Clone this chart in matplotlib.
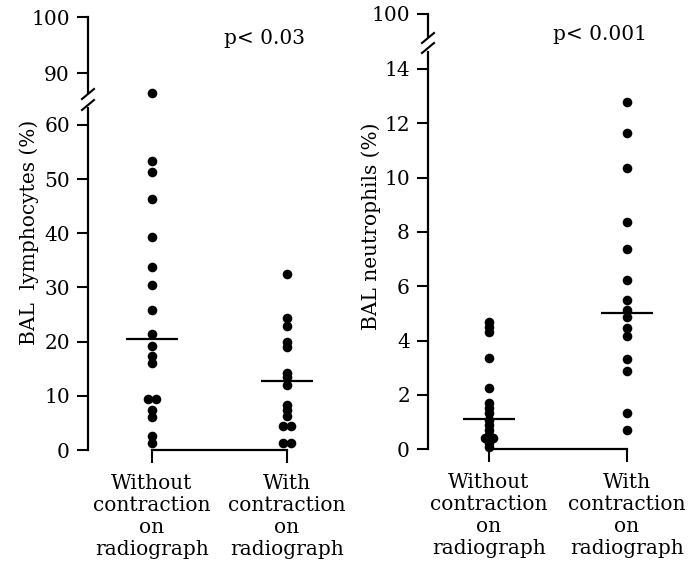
import matplotlib
matplotlib.use("Agg")
import matplotlib.pyplot as plt
from matplotlib.lines import Line2D
import numpy as np

# ---- data ----
groups = ["Without\ncontraction\non\nradiograph", "With\ncontraction\non\nradiograph"]
lymph_without = [86.5, 53.3, 51.3, 46.3, 39.4, 33.8, 30.4, 25.8, 21.5, 19.2, 17.3, 16.1,
                 9.4, 9.4, 7.4, 6.0, 2.6, 1.2]
lymph_with = [32.4, 24.3, 22.8, 20.0, 19.1, 14.3, 13.4, 12.0, 8.3, 7.4, 6.2, 4.4, 4.4, 1.2, 1.2]
lymph_medians = [20.4, 12.8]
neut_without = [4.70, 4.51, 4.33, 3.35, 2.24, 1.69, 1.51, 1.32, 1.08, 0.89, 0.71, 0.53,
                0.40, 0.40, 0.22, 0.10]
neut_with = [12.77, 11.65, 10.34, 8.38, 7.37, 6.23, 5.49, 5.13, 4.86, 4.48, 4.18, 3.31,
             2.88, 1.32, 0.71]
neut_medians = [1.10, 5.03]
lymph_ticks_low = [0, 10, 20, 30, 40, 50, 60]
lymph_ticks_high = [90, 100]
neut_ticks_low = [0, 2, 4, 6, 8, 10, 12, 14]
neut_ticks_high = [100]
p_texts = ["p< 0.03", "p< 0.001"]
ylabels = ["BAL  lymphocytes (%)", "BAL neutrophils (%)"]

FONT = "DejaVu Serif"
FS = 14.5
plt.rcParams["font.family"] = FONT

W, H = 692, 567
fig = plt.figure(figsize=(W / 100, H / 100), dpi=100)


def rect(x0, ytop, x1, ybot):
    return [x0 / W, 1 - ybot / H, (x1 - x0) / W, (ybot - ytop) / H]


def fpt(x, y):
    return x / W, 1 - y / H


def offsets(vals):
    vals = list(vals)
    xs = []
    for i, v in enumerate(vals):
        n = vals.count(v)
        if n > 1:
            k = [j for j, w in enumerate(vals) if w == v].index(i)
            xs.append((k - (n - 1) / 2) * 0.06)
        else:
            xs.append(0.0)
    return np.array(xs)


def panel(xpx, low_rect, low_lim, high_rect, high_lim, series, medians,
          ticks_low, ticks_high, xlim, brk_y):
    axl = fig.add_axes(rect(*low_rect))
    axh = fig.add_axes(rect(*high_rect))
    for ax in (axl, axh):
        ax.set_xlim(*xlim)
        ax.patch.set_alpha(0)
        for s in ("top", "right"):
            ax.spines[s].set_visible(False)
        ax.spines["left"].set_linewidth(1.6)
        ax.tick_params(axis="y", direction="out", length=8, width=1.5,
                       labelsize=FS, pad=5)
    axl.set_ylim(*low_lim)
    axh.set_ylim(*high_lim)
    axh.spines["bottom"].set_visible(False)
    axh.set_xticks([])
    axh.spines["left"].set_bounds(high_lim[0], ticks_high[-1])
    axl.spines["bottom"].set_bounds(1, 2)
    axl.spines["bottom"].set_linewidth(1.6)
    axl.set_xticks([1, 2])
    axl.set_xticklabels(groups, fontsize=FS, linespacing=1.2)
    axl.tick_params(axis="x", direction="out", length=9, width=1.5, pad=8)
    axl.set_yticks(ticks_low)
    axh.set_yticks(ticks_high)

    for g, vals in zip([1, 2], series):
        vals = np.array(vals)
        xs = g + offsets(vals)
        lo = vals <= low_lim[1]
        axl.scatter(xs[lo], vals[lo], s=48, color="black", clip_on=False,
                    zorder=3, linewidths=0)
        if (~lo).any():
            axh.scatter(xs[~lo], vals[~lo], s=48, color="black", clip_on=False,
                        zorder=3, linewidths=0)
    for g, m in zip([1, 2], medians):
        axl.hlines(m, g - 0.19, g + 0.19, color="black", lw=1.6, zorder=4)

    for yb in brk_y:
        x0, y0 = fpt(xpx - 6, yb + 5)
        x1, y1 = fpt(xpx + 6, yb - 5)
        fig.add_artist(Line2D([x0, x1], [y0, y1], color="black", lw=1.5))
    return axl, axh


# left panel
panel(88, (88, 107.5, 330, 450), (0, 63.23), (88, 14, 330, 93), (86.43, 100.54),
      [lymph_without, lymph_with], lymph_medians, lymph_ticks_low, lymph_ticks_high,
      (1 - 64 / 135, 2 + 43 / 135), [94, 105])

# right panel
panel(428, (428, 52, 690, 449.3), (0, 14.62), (428, 12, 690, 36), (98.9, 100.1),
      [neut_without, neut_with], neut_medians, neut_ticks_low, neut_ticks_high,
      (1 - 61 / 138, 2 + 63 / 138), [38, 48])

fig.text(*fpt(265, 38), p_texts[0], fontsize=FS, ha="center", va="center")
fig.text(*fpt(600, 35), p_texts[1], fontsize=FS, ha="center", va="center")
fig.text(*fpt(29, 232), ylabels[0], fontsize=FS, rotation=90, ha="center", va="center")
fig.text(*fpt(371, 226), ylabels[1], fontsize=FS, rotation=90, ha="center", va="center")

fig.savefig("out.png", dpi=100)
